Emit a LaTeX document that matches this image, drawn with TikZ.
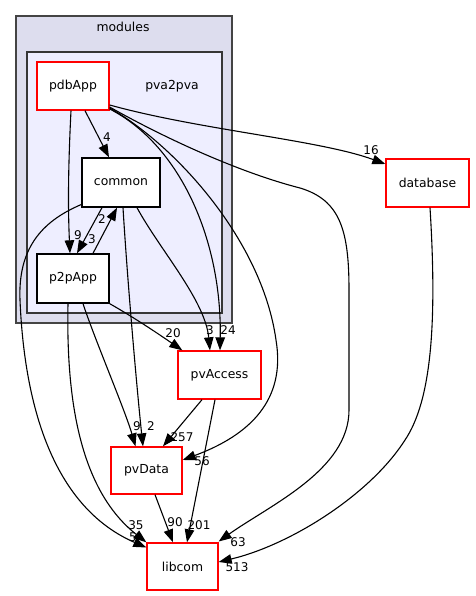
\documentclass[tikz,border=0pt]{standalone}
\usepackage{fontspec}
\setmainfont{DejaVu Sans}
\usetikzlibrary{arrows.meta,calc}
\definecolor{clusterA}{HTML}{DDDDEE}
\definecolor{clusterB}{HTML}{EEEEFF}
\definecolor{clborder}{HTML}{444444}
\tikzset{
  box/.style={draw, fill=white, line width=1.35pt, inner sep=0pt,
    font=\fontsize{12.4}{14}\selectfont},
  rbox/.style={box, draw=red},
  bbox/.style={box, draw=black},
  dep/.style={draw=black, line width=1.1pt, -{Triangle[length=13pt,width=9.5pt]}},
  elab/.style={inner sep=0pt, font=\fontsize{12}{13}\selectfont},
  cltext/.style={inner sep=0pt, font=\fontsize{12.4}{14}\selectfont},
}
\begin{document}
\begin{tikzpicture}[x=1pt,y=-1pt]
\useasboundingbox (0,0) rectangle (475,596);
% clusters
\draw[fill=clusterA, draw=clborder, line width=1.6pt] (16,16) rectangle (232,323);
\node[cltext] (tmodules) at (123,27) {modules};
\draw[fill=clusterB, draw=clborder!80!black, line width=1.3pt] (27,52) rectangle (222,313);
\node[cltext] (tpva) at (172,86) {pva2pva};
% nodes
\node[rbox, minimum width=72pt, minimum height=48pt] (pdb) at (73,86) {pdbApp};
\node[bbox, minimum width=78pt, minimum height=49pt] (com) at (121,182.5) {common};
\node[bbox, minimum width=72pt, minimum height=49pt] (p2p) at (73,278.5) {p2pApp};
\node[rbox, minimum width=83pt, minimum height=48pt] (pva) at (219.5,375) {pvAccess};
\node[rbox, minimum width=71pt, minimum height=47pt] (pvd) at (146.5,470.5) {pvData};
\node[rbox, minimum width=71pt, minimum height=47pt] (lib) at (182.5,566.5) {libcom};
\node[rbox, minimum width=83pt, minimum height=48pt] (db) at (427.5,183) {database};
% edge labels (drawn before the edges, as in the reference)
\node[elab] (l4) at (107,137) {4};
\node[elab] (l9a) at (78,235) {9};
\node[elab] (l3a) at (92,239) {3};
\node[elab] (l2a) at (102,219) {2};
\node[elab] (l16) at (371,150) {16};
\node[elab] (l63) at (238,542) {63};
\node[elab] (l56) at (202,461) {56};
\node[elab] (l24) at (228,330) {24};
\node[elab] (l3b) at (210,330) {3};
\node[elab] (l2b) at (151,426) {2};
\node[elab] (l9b) at (137,426) {9};
\node[elab] (l20) at (173,333) {20};
\node[elab] (l35) at (136,525) {35};
\node[elab] (l5) at (133,537) {5};
\node[elab] (l257) at (182,437) {257};
\node[elab] (l201) at (199,525) {201};
\node[elab] (l90) at (175,522) {90};
\node[elab] (l513) at (237,567) {513};
% edges
\draw[dep] ($(pdb.south)+(12,0)$) -- ($(com.north)+(-12,0)$);
\draw[dep] ($(pdb.south)+(-2,0)$) .. controls (68,170) and (68,210) .. ($(p2p.north)+(-3,0)$);
\draw[dep] ($(com.south)+(-19,0)$) -- ($(p2p.north)+(4,0)$);
\draw[dep] ($(p2p.north)+(20,0)$) -- ($(com.south)+(-4,0)$);
\draw[dep] ($(pdb.east)+(0,19)$) .. controls (200,130) and (320,140) .. ($(db.west)+(0,-19)$);
\draw[dep] ($(pdb.east)+(0,21)$) .. controls (150,130) and (230,170) .. (300,188)
   .. controls (340,200) and (349,230) .. (349,290) -- (349,410)
   .. controls (349,470) and (270,505) .. ($(lib.east)+(0,-25)$);
\draw[dep] ($(pdb.east)+(0,22)$) .. controls (175,145) and (262,240) .. (276,340)
   .. controls (286,400) and (250,435) .. ($(pvd.east)+(0,-10.5)$);
\draw[dep] ($(pdb.east)+(0,23)$) .. controls (180,145) and (222,240) .. ($(pva.north)+(0.5,0)$);
\draw[dep] ($(com.south)+(16,0)$) .. controls (160,250) and (205,300) .. ($(pva.north)+(-9.5,0)$);
\draw[dep] ($(com.south)+(2,0)$) .. controls (128,290) and (138,400) .. ($(pvd.north)+(-3.5,0)$);
\draw[dep] ($(p2p.south)+(10,0)$) .. controls (95,340) and (125,410) .. ($(pvd.north)+(-11,0)$);
\draw[dep] (p2p.south east) .. controls (135,318) and (160,335) .. ($(pva.north west)+(5,0)$);
\draw[dep] ($(p2p.south)+(-5,0)$) .. controls (66,400) and (80,490) .. (lib.north west);
\draw[dep] ($(com.west)+(0,22)$) .. controls (40,222) and (18,250) .. (20,300)
   .. controls (25,420) and (60,510) .. ($(lib.west)+(0,-19)$);
\draw[dep] ($(pva.south)+(-17.5,0)$) -- ($(pvd.north)+(16.5,0)$);
\draw[dep] ($(pva.south)+(-4.5,0)$) -- ($(lib.north)+(4.5,0)$);
\draw[dep] ($(pvd.south)+(8.5,0)$) -- ($(lib.north)+(-9.5,0)$);
\draw[dep] ($(db.south)+(2.5,0)$) .. controls (437,320) and (432,400) .. (405,440)
   .. controls (370,495) and (290,545) .. ($(lib.east)+(0,-4.5)$);
\end{tikzpicture}
\end{document}
